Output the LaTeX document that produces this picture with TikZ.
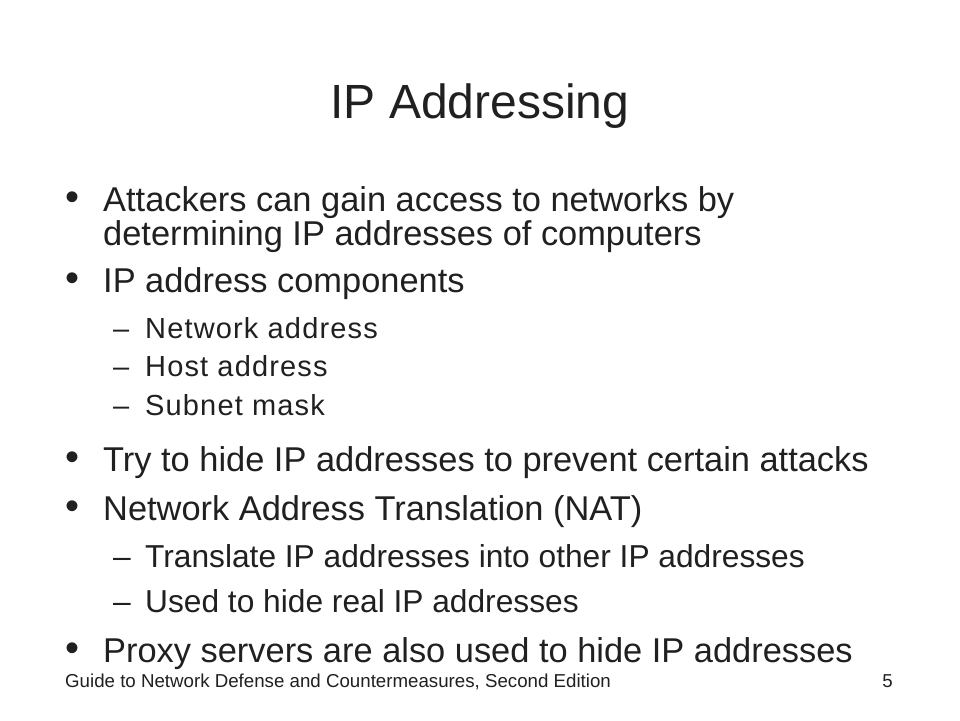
\documentclass[tikz,border=0pt]{standalone}
\usepackage{fontspec}
\setmainfont{Liberation Sans}
\definecolor{ink}{HTML}{202020}
\begin{document}
\begin{tikzpicture}[x=1pt,y=-1pt,
  every node/.style={inner sep=0pt, text=ink},
  heading/.style={anchor=base, font=\fontsize{48}{58}\selectfont},
  level1/.style={anchor=base west, font=\fontsize{34.4}{40}\selectfont},
  level2/.style={anchor=base west, font=\fontsize{31.7}{38}\selectfont},
  level2small/.style={anchor=base west, font=\fontsize{29}{34}\selectfont\addfontfeature{LetterSpace=4}},
  footer/.style={anchor=base west, font=\fontsize{18.7}{22}\selectfont}]
\useasboundingbox[fill=white] (0,0) rectangle (960,720);

\node[heading] (title) at (480,118) {IP Addressing};

% first level
\foreach \y/\txt [count=\i] in {211/{Attackers can gain access to networks by},
  292/{IP address components}, 471/{Try to hide IP addresses to prevent certain attacks},
  520/{Network Address Translation (NAT)}, 662/{Proxy servers are also used to hide IP addresses}} {
\node[level1, font=\fontsize{40}{40}\selectfont] (dot\i) at (65,\y-1) {•};
\node[level1] (item\i) at (103,\y) {\txt};
}
\node[level1] (item1b) at (103,245) {determining IP addresses of computers};

% second level
\foreach \y/\txt [count=\i] in {338/{Network address}, 376/{Host address}, 415/{Subnet mask}} {
\node[level2small] (dash\i) at (113,\y) {–};
\node[level2small] (sub\i) at (145,\y) {\txt};
}
\foreach \y/\txt [count=\i from 4] in {567/{Translate IP addresses into other IP addresses},
  612/{Used to hide real IP addresses}} {
\node[level2] (dash\i) at (113,\y) {–};
\node[level2] (sub\i) at (145,\y) {\txt};
}

\node[footer] (foot) at (65,687) {Guide to Network Defense and Countermeasures, Second Edition};
\node[footer, anchor=base east] (page) at (893,687) {5};
\end{tikzpicture}
\end{document}
